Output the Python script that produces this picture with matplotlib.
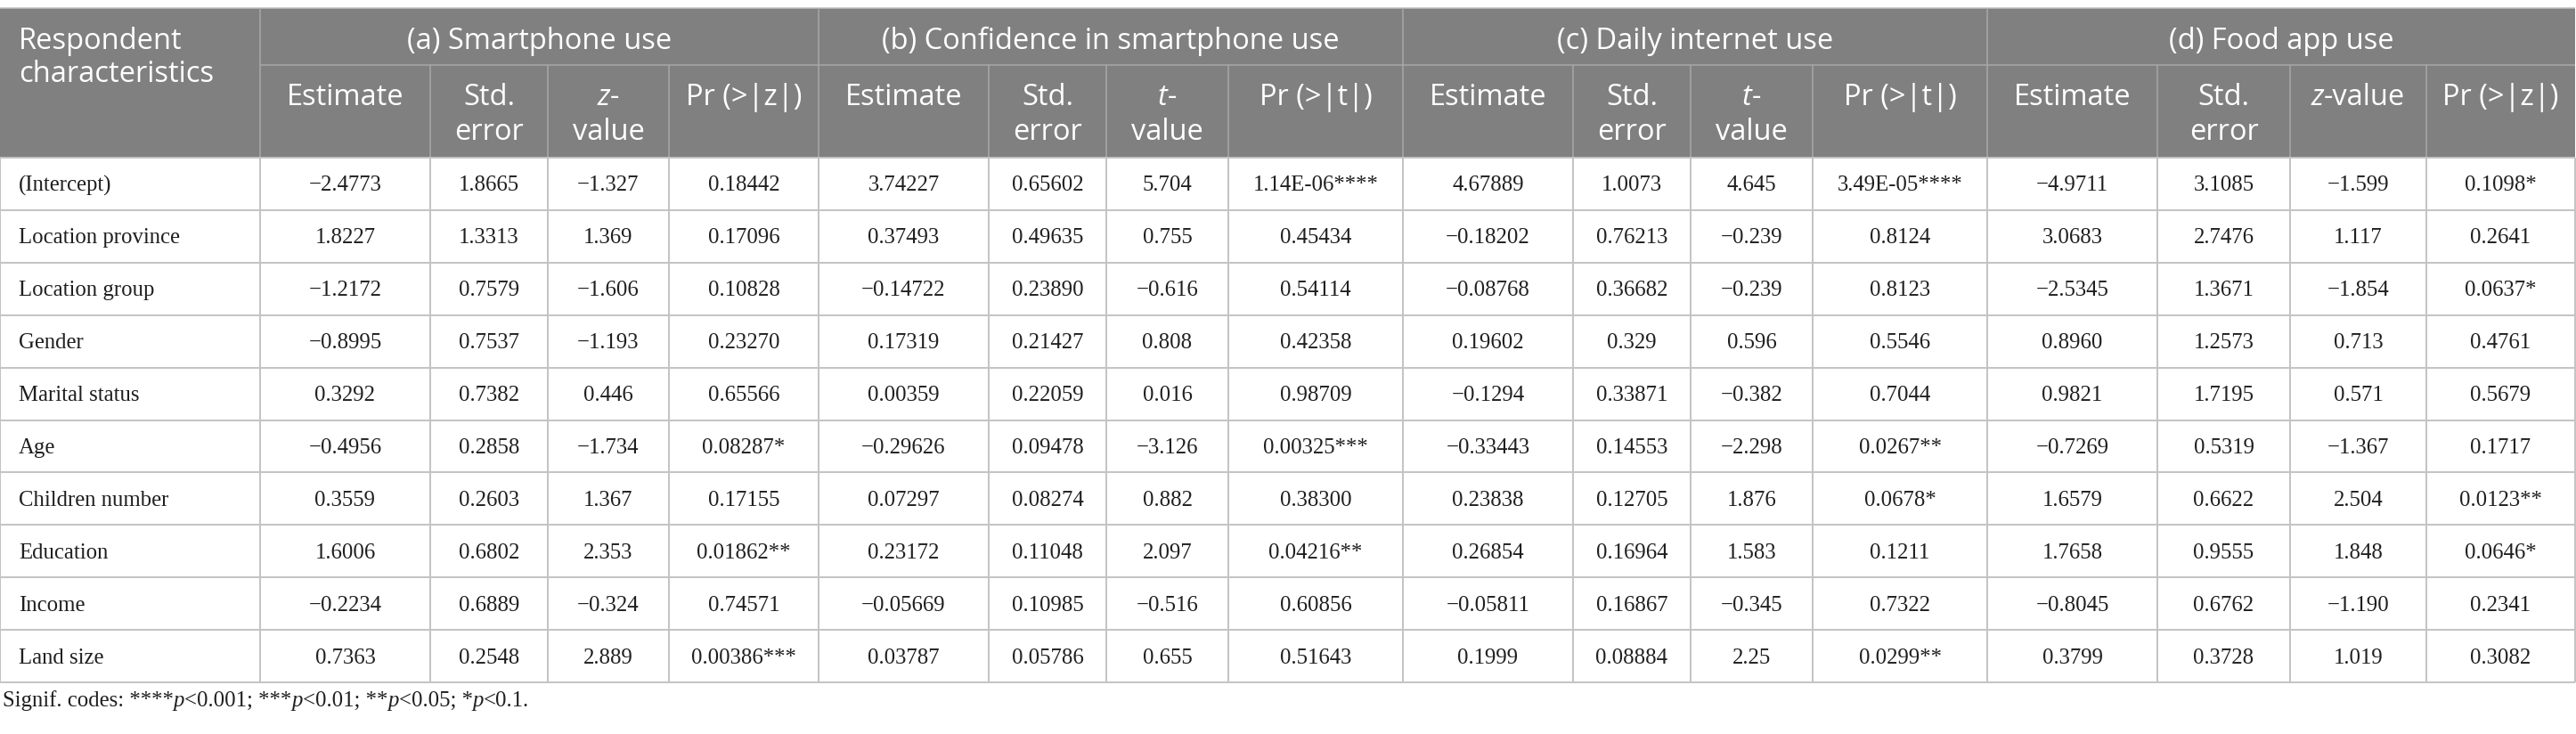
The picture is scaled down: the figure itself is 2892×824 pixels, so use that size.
import re
import numpy as np
import matplotlib.pyplot as plt
from matplotlib.patches import Rectangle

# table contents
rows = ["(Intercept)", "Location province", "Location group", "Gender", "Marital status",
        "Age", "Children number", "Education", "Income", "Land size"]

smartphone_est = ["−2.4773", "1.8227", "−1.2172", "−0.8995", "0.3292", "−0.4956", "0.3559", "1.6006", "−0.2234", "0.7363"]
smartphone_se = ["1.8665", "1.3313", "0.7579", "0.7537", "0.7382", "0.2858", "0.2603", "0.6802", "0.6889", "0.2548"]
smartphone_z = ["−1.327", "1.369", "−1.606", "−1.193", "0.446", "−1.734", "1.367", "2.353", "−0.324", "2.889"]
smartphone_p = ["0.18442", "0.17096", "0.10828", "0.23270", "0.65566", "0.08287*", "0.17155", "0.01862**", "0.74571", "0.00386***"]

confidence_est = ["3.74227", "0.37493", "−0.14722", "0.17319", "0.00359", "−0.29626", "0.07297", "0.23172", "−0.05669", "0.03787"]
confidence_se = ["0.65602", "0.49635", "0.23890", "0.21427", "0.22059", "0.09478", "0.08274", "0.11048", "0.10985", "0.05786"]
confidence_t = ["5.704", "0.755", "−0.616", "0.808", "0.016", "−3.126", "0.882", "2.097", "−0.516", "0.655"]
confidence_p = ["1.14E-06****", "0.45434", "0.54114", "0.42358", "0.98709", "0.00325***", "0.38300", "0.04216**", "0.60856", "0.51643"]

internet_est = ["4.67889", "−0.18202", "−0.08768", "0.19602", "−0.1294", "−0.33443", "0.23838", "0.26854", "−0.05811", "0.1999"]
internet_se = ["1.0073", "0.76213", "0.36682", "0.329", "0.33871", "0.14553", "0.12705", "0.16964", "0.16867", "0.08884"]
internet_t = ["4.645", "−0.239", "−0.239", "0.596", "−0.382", "−2.298", "1.876", "1.583", "−0.345", "2.25"]
internet_p = ["3.49E-05****", "0.8124", "0.8123", "0.5546", "0.7044", "0.0267**", "0.0678*", "0.1211", "0.7322", "0.0299**"]

foodapp_est = ["−4.9711", "3.0683", "−2.5345", "0.8960", "0.9821", "−0.7269", "1.6579", "1.7658", "−0.8045", "0.3799"]
foodapp_se = ["3.1085", "2.7476", "1.3671", "1.2573", "1.7195", "0.5319", "0.6622", "0.9555", "0.6762", "0.3728"]
foodapp_z = ["−1.599", "1.117", "−1.854", "0.713", "0.571", "−1.367", "2.504", "1.848", "−1.190", "1.019"]
foodapp_p = ["0.1098*", "0.2641", "0.0637*", "0.4761", "0.5679", "0.1717", "0.0123**", "0.0646*", "0.2341", "0.3082"]

first_header = "Respondent\ncharacteristics"
groups = ["(a) Smartphone use", "(b) Confidence in smartphone use",
          "(c) Daily internet use", "(d) Food app use"]
sub_headers = [
    ["Estimate", "Std.\nerror", "<i>z</i>-\nvalue", "Pr (>|z|)"],
    ["Estimate", "Std.\nerror", "<i>t</i>-\nvalue", "Pr (>|t|)"],
    ["Estimate", "Std.\nerror", "<i>t</i>-\nvalue", "Pr (>|t|)"],
    ["Estimate", "Std.\nerror", "<i>z</i>-value", "Pr (>|z|)"],
]
footnote = "Signif. codes: ****<i>p</i><0.001; ***<i>p</i><0.01; **<i>p</i><0.05; *<i>p</i><0.1."

columns = [smartphone_est, smartphone_se, smartphone_z, smartphone_p,
           confidence_est, confidence_se, confidence_t, confidence_p,
           internet_est, internet_se, internet_t, internet_p,
           foodapp_est, foodapp_se, foodapp_z, foodapp_p]

# layout (pixels)
W, H = 2892, 824
col_edges = [0, 292, 483, 615, 751, 919, 1110, 1242, 1379, 1575, 1766, 1898,
             2035, 2231, 2422, 2571, 2724, 2891]
y_top, y_mid, y_head, y_bottom = 9, 73, 177, 766
row_edges = np.linspace(y_head, y_bottom, len(rows) + 1)

HEAD_BG = "#808080"
HEAD_LINE = "#a8a8a8"
BODY_LINE = "#c3c3c3"
TEXT = "#1f1f1f"
HEAD_FONT = dict(family="Open Sans", size=23.5, color="white")
BODY_FONT = dict(family="Liberation Serif", size=17.8, color=TEXT)

fig = plt.figure(figsize=(W / 100, H / 100), dpi=100)
ax = fig.add_axes([0, 0, 1, 1])
ax.set_xlim(0, W)
ax.set_ylim(H, 0)
ax.axis("off")
renderer = fig.canvas.get_renderer()


def rich(x, y, s, ha="left", **kw):
    # one line of text with <i>..</i> parts set in italic
    segs = []
    for p in re.split(r"(<i>.*?</i>)", s):
        if not p:
            continue
        if p.startswith("<i>"):
            segs.append((p[3:-4], "italic"))
        else:
            segs.append((p, "normal"))
    arts = [ax.text(0, y, t, style=st, va="baseline", ha="left", **kw) for t, st in segs]
    widths = [a.get_window_extent(renderer).width for a in arts]
    x0 = x - sum(widths) / 2 if ha == "center" else x
    for a, w in zip(arts, widths):
        a.set_x(x0)
        x0 += w


# header block
ax.add_patch(Rectangle((0, y_top), col_edges[-1], y_head - y_top, color=HEAD_BG, lw=0))
ax.hlines(y_mid, col_edges[1], col_edges[-1], color=HEAD_LINE, lw=1.1)
ax.hlines(y_top, 0, col_edges[-1], color=BODY_LINE, lw=1.1)
for i, x in enumerate(col_edges[1:-1], start=1):
    if (i - 1) % 4 == 0:
        ax.vlines(x, y_top, y_head, color=HEAD_LINE, lw=1.1)
    else:
        ax.vlines(x, y_mid, y_head, color=HEAD_LINE, lw=1.1)

for k, line in enumerate(first_header.split("\n")):
    rich(21, 55 + 37 * k, line, **HEAD_FONT)
for g, title in enumerate(groups):
    xc = (col_edges[1 + 4 * g] + col_edges[5 + 4 * g]) / 2
    rich(xc, 55, title, ha="center", **HEAD_FONT)
    for j, lab in enumerate(sub_headers[g]):
        c = 1 + 4 * g + j
        xc = (col_edges[c] + col_edges[c + 1]) / 2
        for k, line in enumerate(lab.split("\n")):
            rich(xc, 118 + 39 * k, line, ha="center", **HEAD_FONT)

# body grid
ax.hlines(row_edges, 0, col_edges[-1], color=BODY_LINE, lw=1.4)
ax.vlines(col_edges, y_head, y_bottom, color=BODY_LINE, lw=1.4)

for r, name in enumerate(rows):
    yb = (row_edges[r] + row_edges[r + 1]) / 2 + 8
    ax.text(21, yb, name, ha="left", va="baseline", **BODY_FONT)
    for c, vals in enumerate(columns):
        xc = (col_edges[c + 1] + col_edges[c + 2]) / 2
        ax.text(xc, yb, vals[r], ha="center", va="baseline", **BODY_FONT)

rich(3, 793, footnote, **BODY_FONT)

fig.savefig("out.png", dpi=100, facecolor="white")
